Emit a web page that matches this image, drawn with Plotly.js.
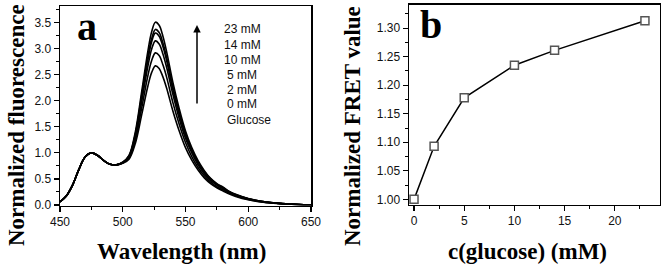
<!DOCTYPE html>
<html>
<head>
<meta charset="utf-8">
<script src="https://cdn.plot.ly/plotly-3.0.1.min.js"></script>
<style>html,body{margin:0;padding:0;background:#fff;}#chart{width:661px;height:266px;}</style>
</head>
<body>
<div id="chart"></div>
<script>
// ---- Panel a: normalized fluorescence spectra ----
const wavelength = [450,455,460,465,470,475,480,485,490,495,500,505,510,515,520,523,526,529,532,535,540,545,550,555,560,565,570,575,580,585,590,600,610,620,630,640,650];
const fl_0mM  = [0.06,0.17,0.38,0.68,0.92,1.00,0.95,0.85,0.78,0.77,0.80,0.88,1.18,1.72,2.28,2.54,2.67,2.62,2.46,2.24,1.80,1.42,1.10,0.86,0.67,0.52,0.41,0.33,0.27,0.21,0.165,0.100,0.060,0.035,0.018,0.008,0.003];
const fl_2mM  = [0.06,0.17,0.38,0.68,0.92,1.00,0.95,0.85,0.78,0.77,0.81,0.90,1.24,1.85,2.48,2.77,2.92,2.87,2.69,2.45,1.96,1.55,1.20,0.93,0.72,0.56,0.44,0.35,0.29,0.225,0.177,0.107,0.064,0.037,0.019,0.008,0.003];
const fl_5mM  = [0.06,0.17,0.38,0.68,0.92,1.00,0.95,0.85,0.78,0.77,0.81,0.92,1.30,1.97,2.66,2.99,3.15,3.09,2.90,2.64,2.12,1.66,1.28,1.00,0.77,0.60,0.47,0.38,0.31,0.240,0.187,0.113,0.067,0.039,0.020,0.009,0.003];
const fl_10mM = [0.06,0.17,0.38,0.68,0.92,1.00,0.95,0.85,0.78,0.77,0.81,0.93,1.34,2.05,2.78,3.13,3.30,3.24,3.04,2.77,2.21,1.74,1.34,1.04,0.81,0.62,0.49,0.39,0.32,0.248,0.194,0.117,0.070,0.041,0.021,0.009,0.004];
const fl_14mM = [0.06,0.17,0.38,0.68,0.92,1.00,0.95,0.85,0.78,0.77,0.82,0.94,1.36,2.09,2.84,3.19,3.37,3.31,3.11,2.83,2.26,1.78,1.37,1.06,0.82,0.64,0.50,0.40,0.33,0.252,0.198,0.119,0.071,0.041,0.021,0.009,0.004];
const fl_23mM = [0.06,0.17,0.38,0.68,0.92,1.00,0.95,0.85,0.78,0.77,0.82,0.95,1.40,2.16,2.95,3.32,3.51,3.45,3.24,2.94,2.35,1.85,1.42,1.10,0.85,0.66,0.51,0.41,0.34,0.260,0.204,0.122,0.073,0.042,0.022,0.010,0.004];
const spectra = [fl_0mM, fl_2mM, fl_5mM, fl_10mM, fl_14mM, fl_23mM];
const legendLabels = ["23 mM", "14 mM", "10 mM", "5 mM", "2 mM", "0 mM", "Glucose"];

// ---- Panel b: normalized FRET value vs glucose ----
const glucose = [0, 2, 5, 10, 14, 23];
const fretValue = [1.000, 1.093, 1.178, 1.235, 1.261, 1.313];

// tick values
const xTicksA = [450, 500, 550, 600, 650];
const yTicksA = [0.0, 0.5, 1.0, 1.5, 2.0, 2.5, 3.0, 3.5];
const xTicksB = [0, 5, 10, 15, 20];
const yTicksB = [1.00, 1.05, 1.10, 1.15, 1.20, 1.25, 1.30];

const W = 661, H = 266;
const px = v => v / W;
const py = v => 1 - v / H;

const traces = spectra.map(s => ({
  x: wavelength, y: s, type: 'scatter', mode: 'lines',
  line: {color: '#000', width: 1.6, shape: 'spline', smoothing: 1.0},
  xaxis: 'x', yaxis: 'y', hoverinfo: 'skip'
}));
traces.push({
  x: glucose, y: fretValue, type: 'scatter', mode: 'lines+markers',
  line: {color: '#000', width: 1.5},
  marker: {symbol: 'square', size: 8, color: '#fff', line: {color: '#555', width: 1.5}},
  xaxis: 'x2', yaxis: 'y2'
});

const tickFont = {family: 'Liberation Sans Narrow, Arial, Liberation Sans, sans-serif', size: 12, color: '#111'};
const axCommon = {
  showgrid: false, zeroline: false, showline: true, linecolor: '#000', linewidth: 1.5,
  mirror: true, ticks: 'outside', ticklen: 5, tickwidth: 1.2, tickcolor: '#000',
  tickfont: tickFont, fixedrange: true
};

const titleFont = {family: 'Liberation Serif, Times New Roman, serif', size: 23, color: '#000'};
const annotations = [
  {text: '<b>a</b>', x: px(75), y: py(26), xref: 'paper', yref: 'paper', xanchor: 'left', yanchor: 'middle', showarrow: false, font: {family: 'Liberation Serif, serif', size: 40, color: '#000'}},
  {text: '<b>b</b>', x: px(418), y: py(24), xref: 'paper', yref: 'paper', xanchor: 'left', yanchor: 'middle', showarrow: false, font: {family: 'Liberation Serif, serif', size: 40, color: '#000'}},
  {text: '<b>Wavelength (nm)</b>', x: px(181), y: py(251), xref: 'paper', yref: 'paper', xanchor: 'center', yanchor: 'middle', showarrow: false, font: titleFont},
  {text: '<b>c(glucose) (mM)</b>', x: px(527), y: py(251), xref: 'paper', yref: 'paper', xanchor: 'center', yanchor: 'middle', showarrow: false, font: titleFont},
  {text: '<b>Normalized fluorescence</b>', x: px(16), y: py(125), xref: 'paper', yref: 'paper', xanchor: 'center', yanchor: 'middle', textangle: -90, showarrow: false, font: titleFont},
  {text: '<b>Normalized FRET value</b>', x: px(353), y: py(126), xref: 'paper', yref: 'paper', xanchor: 'center', yanchor: 'middle', textangle: -90, showarrow: false, font: titleFont},
  {text: '', x: px(197), y: py(25), xref: 'paper', yref: 'paper', ax: 0, ay: 80, axref: 'pixel', ayref: 'pixel', showarrow: true, arrowhead: 2, arrowsize: 1, arrowwidth: 1.5, arrowcolor: '#000'}
];
legendLabels.forEach((t, i) => {
  const indent = /^\d\d/.test(t) ? 221.5 : 225;
  annotations.push({text: t, x: px(indent), y: py(29.5 + i * 15), xref: 'paper', yref: 'paper', xanchor: 'left', yanchor: 'middle', showarrow: false,
    font: {family: 'Liberation Sans, Arial, sans-serif', size: 12, color: '#111'}});
});

const layout = {
  width: W, height: H, autosize: false,
  margin: {l: 0, r: 0, t: 0, b: 0, pad: 0},
  paper_bgcolor: '#fff', plot_bgcolor: '#fff', showlegend: false,
  font: {family: 'Liberation Sans, Arial, sans-serif'},
  xaxis: Object.assign({}, axCommon, {domain: [px(60), px(311)], range: [450, 650], tickvals: xTicksA, ticktext: xTicksA.map(String),
    minor: {dtick: 25, tick0: 450, ticks: 'outside', ticklen: 3, tickcolor: '#000', tickwidth: 1}}),
  yaxis: Object.assign({}, axCommon, {domain: [py(205.5), py(6)], range: [-0.01, 3.82], tickvals: yTicksA, ticktext: yTicksA.map(v => v.toFixed(1)),
    minor: {dtick: 0.25, tick0: 0, ticks: 'outside', ticklen: 3, tickcolor: '#000', tickwidth: 1}}),
  xaxis2: Object.assign({}, axCommon, {anchor: 'y2', domain: [px(409), px(660)], range: [-0.5, 24.5], tickvals: xTicksB, ticktext: xTicksB.map(String),
    minor: {dtick: 2.5, tick0: 0, ticks: 'outside', ticklen: 3, tickcolor: '#000', tickwidth: 1}}),
  yaxis2: Object.assign({}, axCommon, {anchor: 'x2', domain: [py(204.5), py(4.7)], range: [0.991, 1.341], tickvals: yTicksB, ticktext: yTicksB.map(v => v.toFixed(2)),
    minor: {dtick: 0.025, tick0: 1.0, ticks: 'outside', ticklen: 3, tickcolor: '#000', tickwidth: 1}}),
  annotations: annotations
};

Plotly.newPlot('chart', traces, layout, {staticPlot: true, displayModeBar: false});
</script>
</body>
</html>
